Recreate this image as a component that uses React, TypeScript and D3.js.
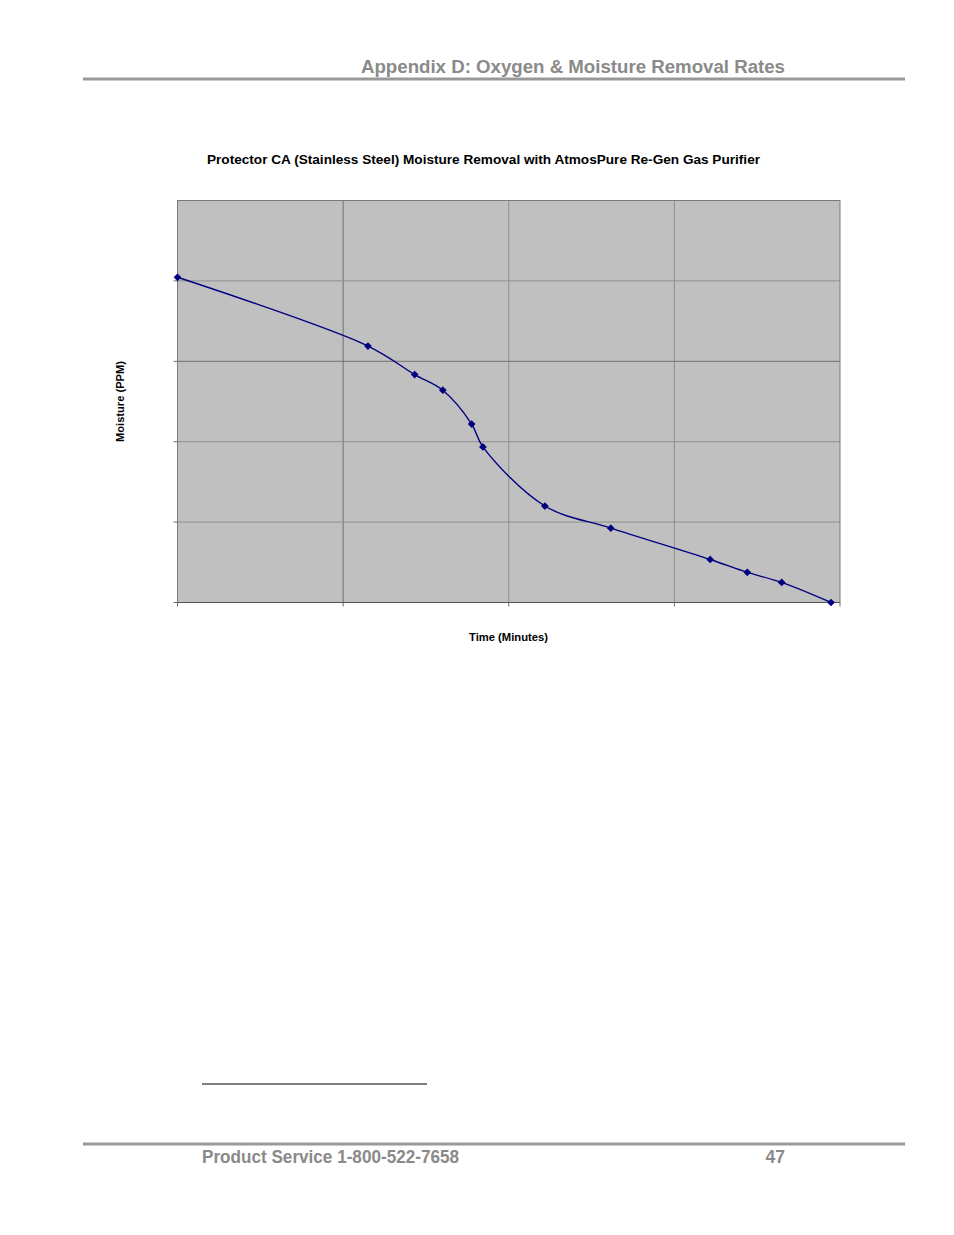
import React from 'react';
import * as d3 from 'd3';

// time (minutes) vs moisture (PPM); the axes carry no numbers
const times = [0, 57.5, 71.6, 80.1, 88.8, 92.2, 110.9, 130.8, 160.8, 172.0, 182.4, 197.3];
const moisture = [80.9, 63.8, 56.7, 52.8, 44.4, 38.7, 24.0, 18.5, 10.7, 7.5, 5.0, 0];

const xTicks = [0, 50, 100, 150, 200];
const yTicks = [0, 20, 40, 60, 80, 100];
const xMajor = [50];
const yMajor = [60];

const title = 'Protector CA (Stainless Steel) Moisture Removal with AtmosPure Re-Gen Gas Purifier';
const xLabel = 'Time (Minutes)';
const yLabel = 'Moisture (PPM)';
const header = 'Appendix D: Oxygen & Moisture Removal Rates';
const footer = 'Product Service 1-800-522-7658';
const pageNo = '47';

const W = 954;
const H = 1235;
const plot = { left: 177.5, right: 840, top: 200.5, bottom: 602.5 };
const font = 'Arial, "Liberation Sans", sans-serif';

const App = () => {
  const x = d3.scaleLinear().domain([0, 200]).range([plot.left, plot.right]);
  const y = d3.scaleLinear().domain([0, 100]).range([plot.bottom, plot.top]);

  const pts: [number, number][] = times.map((t, i) => [t, moisture[i]]);
  const line = d3
    .line<[number, number]>()
    .x((d) => x(d[0]))
    .y((d) => y(d[1]))
    .curve(d3.curveCatmullRom.alpha(0.5));

  // Excel-style marker: a square turned 45 degrees
  const marker = d3.symbol(d3.symbolSquare, 30)() || '';

  return (
    <svg
      width={W}
      height={H}
      viewBox={`0 0 ${W} ${H}`}
      style={{ position: 'absolute', left: 0, top: 0, background: '#fff' }}
    >
      {/* page header */}
      <text
        x={361}
        y={73}
        textLength={424}
        lengthAdjust="spacingAndGlyphs"
        fontFamily={font}
        fontWeight="bold"
        fontSize={17.5}
        fill="#8a8a8a"
      >
        {header}
      </text>
      <line x1={83} x2={905} y1={79} y2={79} stroke="#999" strokeWidth={3} />

      {/* chart title */}
      <text
        x={207}
        y={164}
        textLength={553}
        lengthAdjust="spacingAndGlyphs"
        fontFamily={font}
        fontWeight="bold"
        fontSize={12.6}
        fill="#000"
      >
        {title}
      </text>

      {/* plot area */}
      <rect
        x={plot.left}
        y={plot.top}
        width={plot.right - plot.left}
        height={plot.bottom - plot.top}
        fill="#c0c0c0"
      />
      {xTicks.slice(1, -1).map((t) => (
        <line
          key={`gx${t}`}
          x1={x(t)}
          x2={x(t)}
          y1={plot.top}
          y2={plot.bottom}
          stroke={xMajor.includes(t) ? '#6e6e6e' : '#8f8f8f'}
          strokeWidth={1}
        />
      ))}
      {yTicks.slice(1, -1).map((t) => (
        <line
          key={`gy${t}`}
          x1={plot.left}
          x2={plot.right}
          y1={y(t)}
          y2={y(t)}
          stroke={yMajor.includes(t) ? '#6e6e6e' : '#8f8f8f'}
          strokeWidth={1}
        />
      ))}
      <rect
        x={plot.left}
        y={plot.top}
        width={plot.right - plot.left}
        height={plot.bottom - plot.top}
        fill="none"
        stroke="#7a7a7a"
        strokeWidth={1}
      />
      {/* axis ticks */}
      {xTicks.map((t) => (
        <line key={`tx${t}`} x1={x(t)} x2={x(t)} y1={plot.bottom} y2={plot.bottom + 4} stroke="#6e6e6e" />
      ))}
      {yTicks.slice(0, -1).map((t) => (
        <line key={`ty${t}`} x1={plot.left - 4} x2={plot.left} y1={y(t)} y2={y(t)} stroke="#6e6e6e" />
      ))}
      <line x1={plot.left} x2={plot.right} y1={plot.bottom} y2={plot.bottom} stroke="#555" strokeWidth={1.2} />

      {/* series */}
      <path d={line(pts) || ''} fill="none" stroke="#000080" strokeWidth={1.4} />
      {pts.map((p, i) => (
        <path
          key={i}
          d={marker}
          transform={`translate(${x(p[0])},${y(p[1])}) rotate(45)`}
          fill="#000080"
        />
      ))}

      {/* axis titles */}
      <text
        x={469}
        y={641}
        textLength={79}
        lengthAdjust="spacingAndGlyphs"
        fontFamily={font}
        fontWeight="bold"
        fontSize={10.5}
        fill="#000"
      >
        {xLabel}
      </text>
      <text
        transform={`translate(123.5,442) rotate(-90)`}
        textLength={81}
        lengthAdjust="spacingAndGlyphs"
        fontFamily={font}
        fontWeight="bold"
        fontSize={10.5}
        fill="#000"
      >
        {yLabel}
      </text>

      {/* footnote rule and page footer */}
      <line x1={202} x2={427} y1={1084} y2={1084} stroke="#000" strokeWidth={1} />
      <line x1={83} x2={905} y1={1144} y2={1144} stroke="#999" strokeWidth={3} />
      <text
        x={202}
        y={1163}
        textLength={257}
        lengthAdjust="spacingAndGlyphs"
        fontFamily={font}
        fontWeight="bold"
        fontSize={17.5}
        fill="#8a8a8a"
      >
        {footer}
      </text>
      <text x={785} y={1163} textAnchor="end" fontFamily={font} fontWeight="bold" fontSize={17.5} fill="#8a8a8a">
        {pageNo}
      </text>
    </svg>
  );
};

export default App;
